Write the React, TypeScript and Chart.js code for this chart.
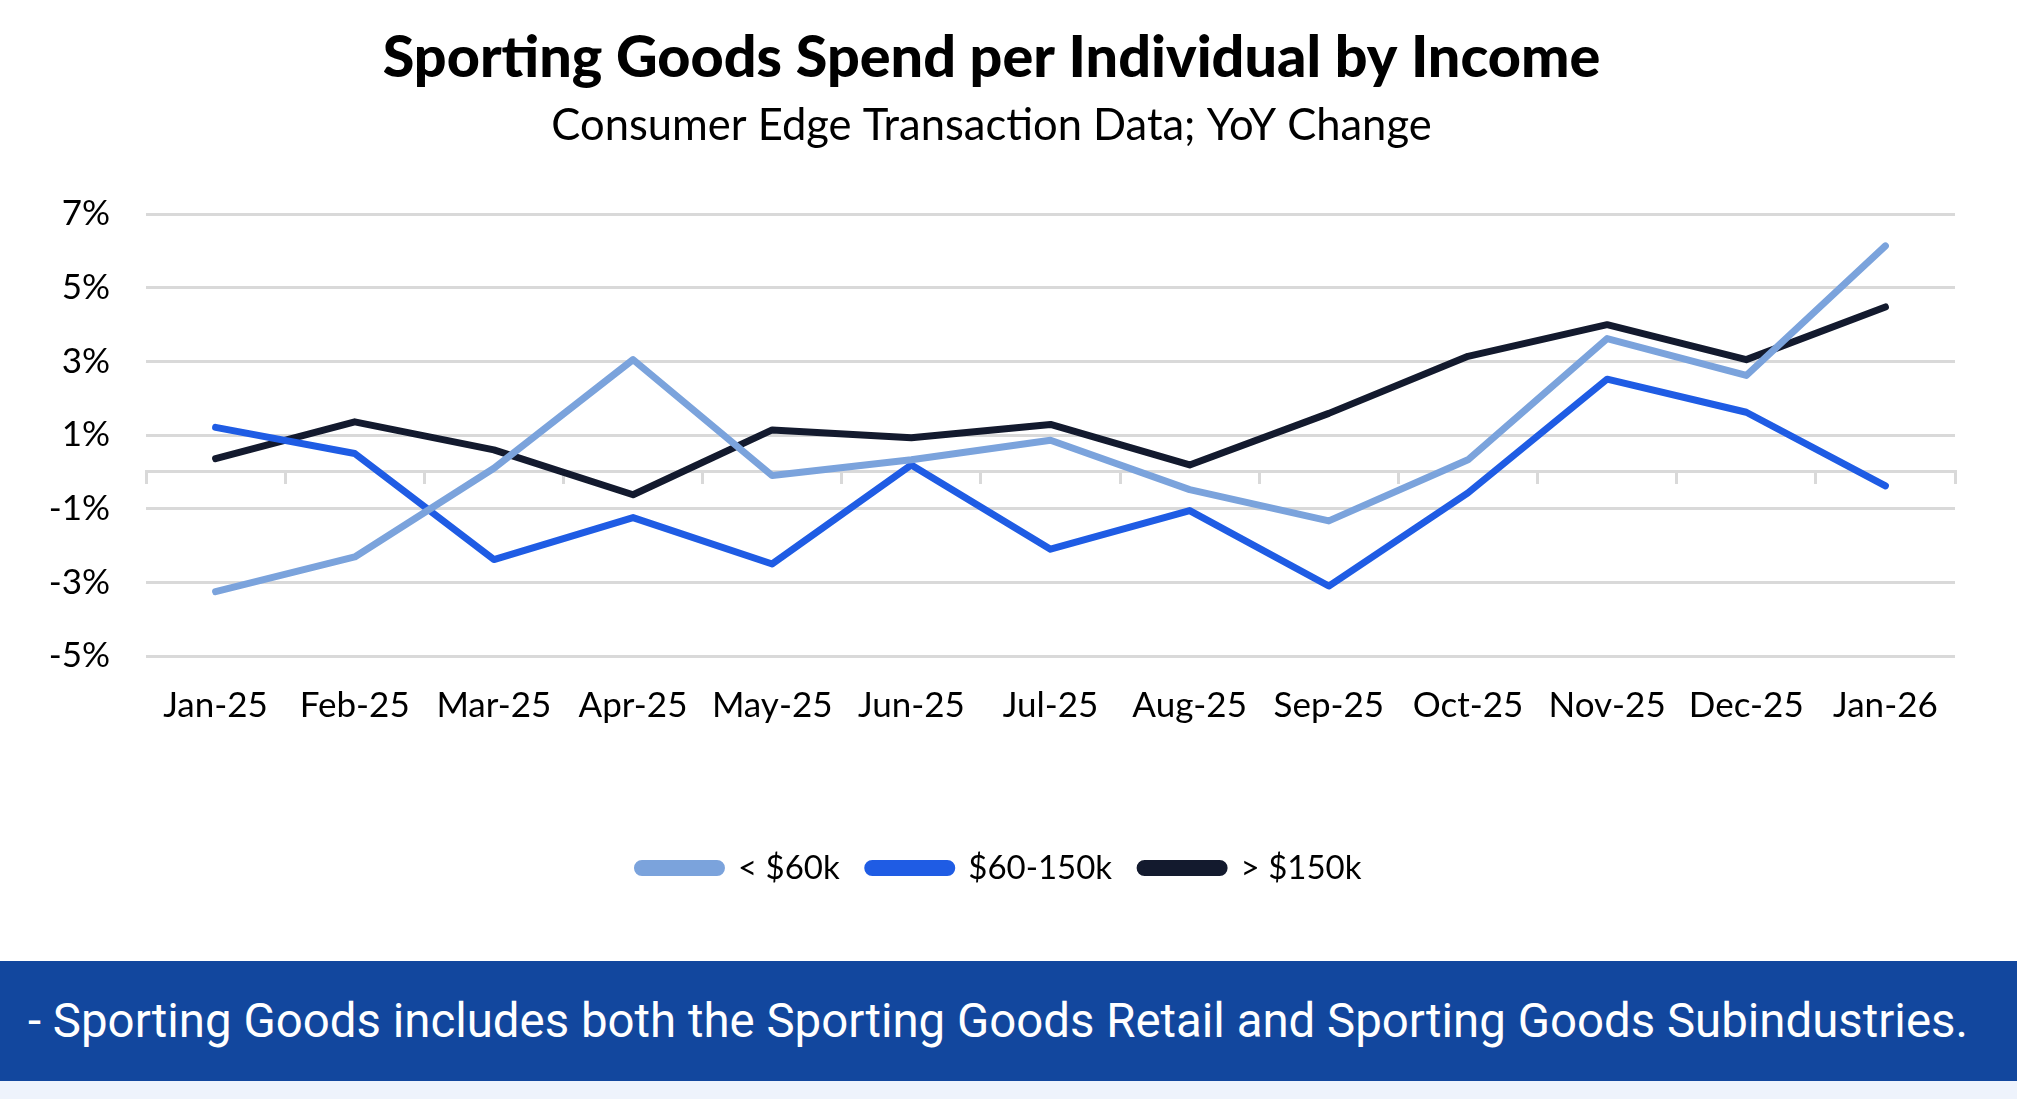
import React, { useEffect, useRef } from "react";
import { Chart, registerables } from "chart.js";

Chart.register(...registerables);

const months = [
  "Jan-25", "Feb-25", "Mar-25", "Apr-25", "May-25", "Jun-25", "Jul-25",
  "Aug-25", "Sep-25", "Oct-25", "Nov-25", "Dec-25", "Jan-26",
];

// YoY change in sporting goods spend per individual, percent
const under60k = [-3.25, -2.31, 0.1, 3.05, -0.1, 0.33, 0.86, -0.48, -1.33, 0.33, 3.62, 2.62, 6.14];
const mid60to150k = [1.21, 0.5, -2.38, -1.24, -2.5, 0.19, -2.1, -1.05, -3.1, -0.57, 2.52, 1.62, -0.38];
const over150k = [0.36, 1.36, 0.6, -0.62, 1.14, 0.93, 1.29, 0.19, 1.59, 3.14, 4.0, 3.05, 4.48];

const seriesNames = ["< $60k", "$60-150k", "> $150k"];
const seriesColors = ["#7ba3dc", "#1f5ce4", "#131a2e"];

const yMin = -5;
const yMax = 7;
const yStep = 2;

const titleText = "Sporting Goods Spend per Individual by Income";
const subtitleText = "Consumer Edge Transaction Data; YoY Change";
const footnote =
  "- Sporting Goods includes both the Sporting Goods Retail and Sporting Goods Subindustries.";

const FONT = "Lato, 'Open Sans', sans-serif";
const GRID = "#d9d9d9";
const LEGEND_SHIFT = 22;
const HEADER_SHIFT = 14;

// Nudges the header lines and the legend row slightly right of the layout centre
const boxShift = {
  id: "boxShift",
  afterLayout(chart: any) {
    for (const box of chart.boxes) {
      if (box.axis) continue;
      const dx = box === chart.legend ? LEGEND_SHIFT : box.position === "top" ? HEADER_SHIFT : 0;
      box.left += dx;
      box.right += dx;
    }
  },
};

export default function App() {
  const canvasRef = useRef<HTMLCanvasElement | null>(null);

  useEffect(() => {
    document.body.style.margin = "0";
    const canvas = canvasRef.current;
    if (!canvas) return;
    const values = [under60k, mid60to150k, over150k];
    const chart = new Chart(canvas, {
      type: "line",
      data: {
        labels: months,
        datasets: values.map((v, i) => ({
          label: seriesNames[i],
          data: v,
          borderColor: seriesColors[i],
          backgroundColor: seriesColors[i],
          borderWidth: 7,
          borderCapStyle: "round",
          borderJoinStyle: "round",
          pointRadius: 0,
          pointHoverRadius: 0,
          tension: 0,
          fill: false,
          xAxisID: "x",
        })),
      },
      plugins: [boxShift],
      options: {
        animation: false,
        responsive: false,
        maintainAspectRatio: false,
        layout: { padding: { left: 0, right: 62, top: 0, bottom: 66.5 } },
        plugins: {
          title: {
            display: true,
            text: titleText,
            color: "#000",
            font: { family: FONT, size: 57.5, weight: "900" },
            padding: { top: 24, bottom: 7 },
          },
          subtitle: {
            display: true,
            text: subtitleText,
            color: "#000",
            font: { family: FONT, size: 43.5 },
            padding: { top: 0, bottom: 62 },
          },
          legend: {
            position: "bottom",
            labels: {
              color: "#000",
              font: { family: FONT, size: 33 },
              boxWidth: 84,
              boxHeight: 9,
              padding: 28,
              useBorderRadius: true,
              borderRadius: 4.5,
            },
          },
          tooltip: { enabled: false },
        },
        scales: {
          x: {
            type: "category",
            offset: true,
            grid: { display: false, drawTicks: false },
            border: { display: false },
            ticks: {
              color: "#000",
              font: { family: FONT, size: 35 },
              padding: 29,
              maxRotation: 0,
              autoSkip: false,
            },
            afterFit: (s: any) => {
              s.height = 167.5;
            },
          },
          xZero: {
            type: "category",
            position: { y: 0 },
            offset: true,
            grid: {
              offset: true,
              drawOnChartArea: false,
              drawTicks: true,
              tickLength: 11,
              color: GRID,
              lineWidth: 3,
            },
            border: { display: true, color: GRID, width: 3 },
            ticks: { display: false },
          },
          y: {
            min: yMin,
            max: yMax,
            grid: { color: GRID, lineWidth: 3, drawTicks: false },
            border: { display: false },
            ticks: {
              stepSize: yStep,
              color: "#000",
              font: { family: FONT, size: 35 },
              padding: 36,
              callback: (v: any) => `${v}%`,
            },
            afterFit: (s: any) => {
              s.width = 146;
            },
          },
        },
      },
    });
    return () => chart.destroy();
  }, []);

  return (
    <div style={{ width: 2017, height: 1099, overflow: "hidden", background: "#fff" }}>
      <canvas ref={canvasRef} width={2017} height={961} style={{ display: "block" }} />
      <div
        style={{
          height: 120,
          background: "#12479e",
          color: "#fff",
          fontFamily: "Roboto, 'Liberation Sans', sans-serif",
          fontSize: 47.4,
          display: "flex",
          alignItems: "center",
          paddingLeft: 28,
          whiteSpace: "nowrap",
        }}
      >
        {footnote}
      </div>
      <div style={{ height: 18, background: "#eef3fc" }} />
    </div>
  );
}
